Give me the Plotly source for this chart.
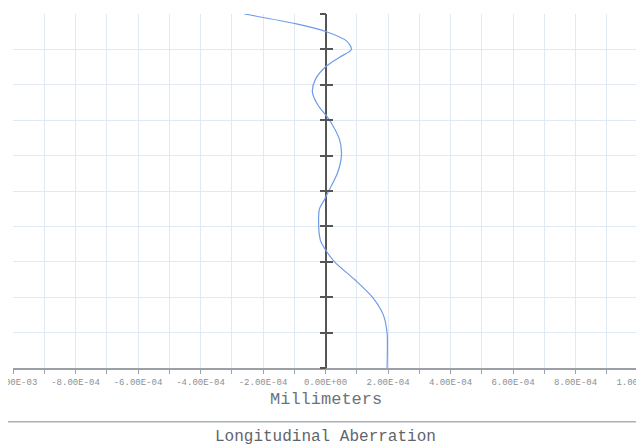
import plotly.graph_objects as go

# Normalized pupil coordinate (vertical axis)
pupil = [0.0, 0.05, 0.1, 0.15, 0.2, 0.25, 0.3, 0.334, 0.36, 0.405, 0.45, 0.476,
         0.5, 0.55, 0.6, 0.645, 0.7, 0.745, 0.78, 0.816, 0.853, 0.878, 0.9,
         0.924, 0.95, 0.972, 1.0]
# Longitudinal aberration in millimeters
aberration = [1.97e-4, 1.98e-4, 1.97e-4, 1.85e-4, 1.50e-4, 0.93e-4, 0.29e-4, 0.0,
              -0.16e-4, -0.22e-4, -0.19e-4, -0.03e-4, 0.10e-4, 0.38e-4, 0.51e-4,
              0.45e-4, 0.13e-4, -0.26e-4, -0.42e-4, -0.32e-4, 0.03e-4, 0.45e-4,
              0.83e-4, 0.67e-4, 0.03e-4, -0.93e-4, -2.60e-4]

x_tickvals = [-1e-3, -8e-4, -6e-4, -4e-4, -2e-4, 0.0, 2e-4, 4e-4, 6e-4, 8e-4, 1e-3]
x_ticktext = ["-1.00E-03", "-8.00E-04", "-6.00E-04", "-4.00E-04", "-2.00E-04",
              "0.00E+00", "2.00E-04", "4.00E-04", "6.00E-04", "8.00E-04", "1.00E-03"]
y_tickvals = [0.0, 0.1, 0.2, 0.3, 0.4, 0.5, 0.6, 0.7, 0.8, 0.9, 1.0]

x_title = "Millimeters"
chart_title = "Longitudinal Aberration"

MONO = "Liberation Mono, Courier New, monospace"
GRID = "#e1e9f4"

# the page body has an 8px margin, so the figure is shifted by 8px;
# margins below compensate so the plot lands where the reference has it
fig = go.Figure()
fig.add_trace(go.Scatter(
    x=aberration, y=pupil, mode="lines",
    line=dict(color="#6f9ce6", width=1.2, shape="spline", smoothing=0.8),
    showlegend=False, hoverinfo="skip",
))
fig.add_trace(go.Scatter(x=[None], y=[None], yaxis="y2", showlegend=False,
                         hoverinfo="skip"))

fig.update_layout(
    width=644, height=446,
    margin=dict(l=5, r=14, t=6, b=86, autoexpand=False),
    paper_bgcolor="white", plot_bgcolor="white",
    xaxis=dict(
        range=[-1e-3, 1e-3], tickvals=x_tickvals, ticktext=x_ticktext,
        showgrid=True, gridcolor=GRID, gridwidth=1,
        zeroline=True, zerolinecolor="#555555", zerolinewidth=1.5,
        showline=True, linecolor="#9aa0a6", linewidth=2,
        ticks="outside", ticklen=4, tickcolor="#9aa0a6",
        minor=dict(dtick=1e-4, tick0=0, showgrid=True, gridcolor=GRID,
                   ticks="outside", ticklen=4, tickcolor="#9aa0a6"),
        tickfont=dict(family=MONO, size=9, color="#8a8f96"),
        ticklabeloverflow="allow",
        automargin=False,
        fixedrange=True,
    ),
    yaxis=dict(
        range=[0, 1], tickvals=y_tickvals, showticklabels=False,
        showgrid=True, gridcolor=GRID, gridwidth=1,
        zeroline=False, showline=False,
        ticks="outside", ticklen=6, tickwidth=2, tickcolor="#555555",
        anchor="free", position=0.5, automargin=False,
    ),
    yaxis2=dict(
        range=[0, 1], tickvals=y_tickvals, showticklabels=False,
        showgrid=False, zeroline=False, showline=False,
        ticks="inside", ticklen=6, tickwidth=2, tickcolor="#555555",
        anchor="free", position=0.5, overlaying="y", side="left",
        automargin=False,
    ),
    annotations=[
        dict(text=x_title, xref="paper", yref="paper", x=0.5, y=-0.09,
             xanchor="center", yanchor="middle", showarrow=False,
             font=dict(family=MONO, size=17, color="#6d737a")),
        dict(text=chart_title, xref="paper", yref="paper", x=0.5, y=-0.196,
             xanchor="center", yanchor="middle", showarrow=False,
             font=dict(family=MONO, size=16, color="#5f656c")),
    ],
    shapes=[
        dict(type="line", xref="paper", yref="paper", x0=-0.008, x1=1.02,
             y0=-0.152, y1=-0.152, line=dict(color="#a9b0b8", width=1.5)),
    ],
)

fig.write_html("out.html")
